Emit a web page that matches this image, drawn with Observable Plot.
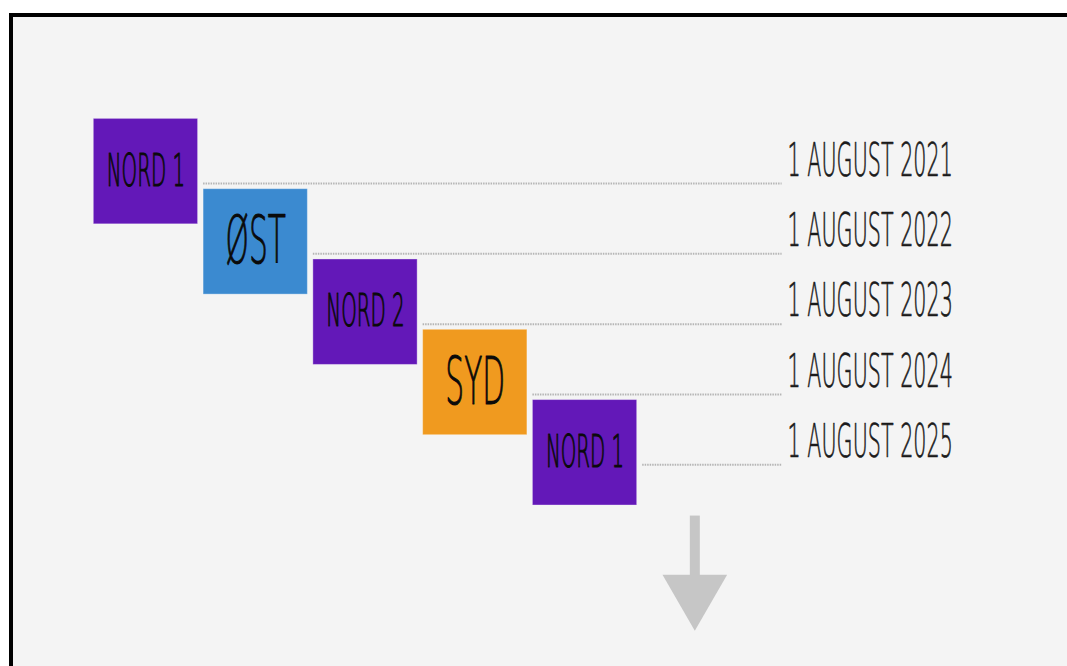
<!DOCTYPE html>
<html>
<head>
<meta charset="utf-8">
<script src="https://cdn.jsdelivr.net/npm/d3@7"></script>
<script src="https://cdn.jsdelivr.net/npm/@observablehq/plot@0.6"></script>
<style>
  html, body { margin: 0; padding: 0; background: #ffffff; overflow: hidden; }
  #chart svg { display: block; }
</style>
</head>
<body>
<div id="chart"></div>
<script>
// ---- data ----
const regions = ["NORD 1", "ØST", "NORD 2", "SYD", "NORD 1"];
const dates = ["1 AUGUST 2021", "1 AUGUST 2022", "1 AUGUST 2023", "1 AUGUST 2024", "1 AUGUST 2025"];
const regionKeys = ["NORD 1", "ØST", "NORD 2", "SYD"];
const regionColors = ["#6318b8", "#3b8ad0", "#6318b8", "#f09a1f"];

// ---- table built from the arrays ----
const steps = regions.map((r, i) => ({i, region: r, date: dates[i]}));
const next = [{i: regions.length}];

const W = 1067, H = 666;
const FONT = "'DejaVu Sans', sans-serif";
const CONDENSE = 0.45;

const plot = Plot.plot({
  width: W,
  height: H,
  margin: 0,
  style: {overflow: "hidden", background: "#ffffff"},
  x: {type: "linear", domain: [-0.85, 8.87], range: [0, W], axis: null},
  y: {type: "linear", domain: [-1.684, 7.79], range: [0, H], axis: null},
  color: {type: "ordinal", domain: regionKeys, range: regionColors},
  marks: [
    // paper + frame
    Plot.frame({fill: "#f4f4f4", stroke: "#000000", strokeWidth: 4,
      insetLeft: 10.5, insetTop: 14.5, insetRight: -30, insetBottom: -30}),
    // dotted timeline rules
    Plot.ruleY(steps, {
      y: d => d.i + 0.92,
      x1: d => d.i + 1,
      x2: () => 6.27,
      stroke: "#b5b5b5", strokeWidth: 2, strokeDasharray: "1.5,1"
    }),
    // boxes
    Plot.rect(steps, {
      x1: d => d.i, x2: d => d.i + 0.95,
      y1: d => d.i, y2: d => d.i + 1.5,
      fill: "region", stroke: "#ffffff", strokeOpacity: 0.35, strokeWidth: 1
    }),
    // box labels
    Plot.text(steps, {
      x: d => d.i + 0.475, y: d => d.i + 0.75,
      text: "region",
      fill: "#0a0a0a",
      stroke: "#0a0a0a", strokeWidth: 1.1,
      fontSize: d => d.region.length > 3 ? 44 : 66,
      fontWeight: 200,
      fontFamily: FONT,
      textAnchor: "middle",
      lineAnchor: "middle",
      className: "cond"
    }),
    // date labels
    Plot.text(steps, {
      x: () => 6.32, y: d => d.i + 0.6,
      text: "date",
      fill: "#1a1a1a",
      stroke: "#1a1a1a", strokeWidth: 0.7,
      fontSize: 46,
      fontWeight: 200,
      fontFamily: FONT,
      textAnchor: "start",
      lineAnchor: "middle",
      className: "cond"
    }),
    // continuation arrow
    Plot.ruleX(next, {
      x: d => d.i + 0.475,
      y1: d => d.i + 0.65, y2: d => d.i + 1.55,
      stroke: "#c6c6c6", strokeWidth: 10
    }),
    Plot.dot(next, {
      x: d => d.i + 0.475, y: d => d.i + 1.75,
      symbol: "triangle", r: 24, rotate: 180,
      fill: "#c6c6c6", stroke: "none"
    })
  ]
});

document.getElementById("chart").appendChild(plot);

// condense the handwritten-style labels horizontally (around their anchor point)
d3.select(plot).selectAll(".cond text").each(function() {
  let pre = "";
  const xa = this.getAttribute("x");
  if (xa !== null && isFinite(+xa)) { pre += ` translate(${+xa},0)`; this.removeAttribute("x"); }
  const ya = this.getAttribute("y");
  if (ya !== null && isFinite(+ya)) { pre += ` translate(0,${+ya})`; this.removeAttribute("y"); }
  const t = this.getAttribute("transform") || "";
  this.setAttribute("transform", `${t}${pre} scale(${CONDENSE},1)`.trim());
});
</script>
</body>
</html>
